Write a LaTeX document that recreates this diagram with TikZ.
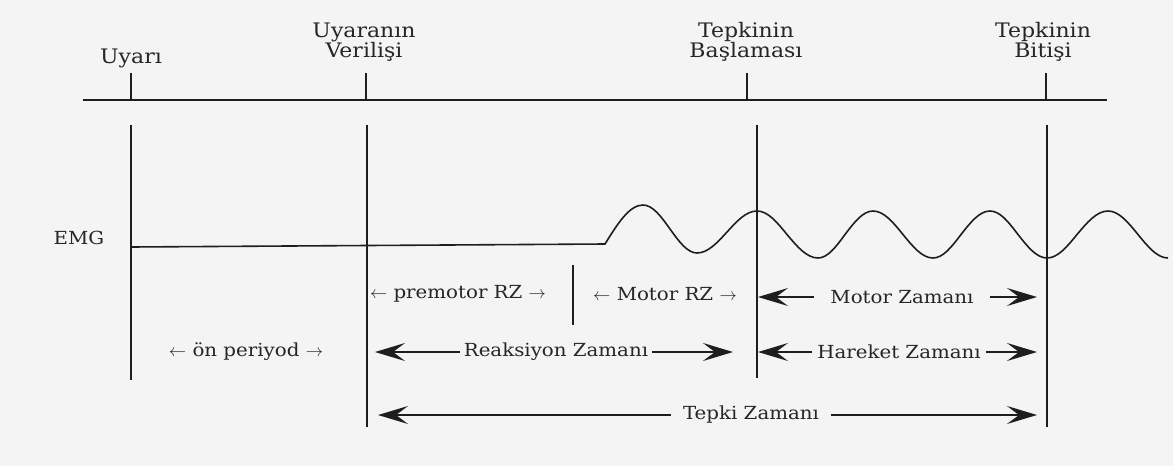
\documentclass[tikz,border=0pt]{standalone}
\usepackage{fontspec}
\setmainfont[FakeStretch=1.1]{DejaVu Serif}
\usetikzlibrary{arrows.meta}
\definecolor{bg}{RGB}{244,244,244}
\definecolor{ink}{RGB}{30,30,30}
\definecolor{txt}{RGB}{38,38,38}
\tikzset{
  lbl/.style={text=txt, font=\fontsize{18}{21}\selectfont, inner sep=0pt},
  toplbl/.style={text=txt, font=\fontsize{20}{20}\selectfont, inner sep=0pt, align=center},
  ln/.style={draw=ink, line width=1.6pt},
  dimarrow/.style={ln, -{Stealth[length=30pt,width=18pt,inset=12pt]}},
}
\begin{document}
\begin{tikzpicture}[x=1pt,y=-1pt]
\fill[bg] (0,0) rectangle (1173,466);
\useasboundingbox (0,0) rectangle (1173,466);
% top labels
\node[toplbl] (uyari) at (131,58) {Uyarı};
\node[toplbl] (veril) at (364,42) {Uyaranın\\Verilişi};
\node[toplbl] (basla) at (746,42) {Tepkinin\\Başlaması};
\node[toplbl] (bitis) at (1043,42) {Tepkinin\\Bitişi};
% top time axis
\coordinate (axL) at (83,100);
\coordinate (axR) at (1107,100);
\draw[ln] (axL) -- (axR);
\coordinate (t1) at (131,100); \coordinate (t1u) at (131,73);
\coordinate (t2) at (366,100); \coordinate (t2u) at (366,73);
\coordinate (t3) at (747,100); \coordinate (t3u) at (747,73);
\coordinate (t4) at (1046,100); \coordinate (t4u) at (1046,73);
\draw[ln] (t1) -- (t1u);
\draw[ln] (t2) -- (t2u);
\draw[ln] (t3) -- (t3u);
\draw[ln] (t4) -- (t4u);
% lower verticals
\coordinate (v1a) at (131,125); \coordinate (v1b) at (131,380);
\coordinate (v2a) at (367,125); \coordinate (v2b) at (367,427);
\coordinate (v3a) at (757,125); \coordinate (v3b) at (757,378);
\coordinate (v4a) at (1047,125); \coordinate (v4b) at (1047,427);
\coordinate (sepa) at (573,265); \coordinate (sepb) at (573,325);
\draw[ln] (v1a) -- (v1b);
\draw[ln] (v2a) -- (v2b);
\draw[ln] (v3a) -- (v3b);
\draw[ln] (v4a) -- (v4b);
\draw[ln] (sepa) -- (sepb);
% EMG
\node[lbl] (emg) at (79,238) {EMG};
\coordinate (e0) at (131,247);
\coordinate (e1) at (605,244);
\draw[ln] (e0) -- (e1)
  sin (643,205) cos (670,229) sin (697,253) cos (727,232)
  sin (757,211) cos (787,234.5) sin (818,258) cos (845,234.5)
  sin (873,211) cos (903,234.5) sin (933,258) cos (961,234.5)
  sin (990,211) cos (1018,234.5) sin (1047,258) cos (1077,234.5)
  sin (1108,211) cos (1138,234.5) sin (1168,258);
% row 1
\node[lbl] (premot) at (458,294) {$\leftarrow$ premotor RZ $\rightarrow$};
\node[lbl] (motrz) at (665,294) {$\leftarrow$ Motor RZ $\rightarrow$};
\node[lbl, inner xsep=16pt] (motz) at (902,297) {Motor Zamanı};
\coordinate (mzL) at (758,297); \coordinate (mzR) at (1037,297);
\draw[dimarrow] (motz.west) -- (mzL);
\draw[dimarrow] (motz.east) -- (mzR);
% row 2
\node[lbl] (onper) at (246,352) {$\leftarrow$ ön periyod $\rightarrow$};
\node[lbl, inner xsep=4pt] (reak) at (556,352) {Reaksiyon Zamanı};
\coordinate (rzL) at (375,352); \coordinate (rzR) at (733,352);
\draw[dimarrow] (reak.west) -- (rzL);
\draw[dimarrow] (reak.east) -- (rzR);
\node[lbl, inner xsep=5pt] (hare) at (899,352) {Hareket Zamanı};
\coordinate (hzL) at (758,352); \coordinate (hzR) at (1037,352);
\draw[dimarrow] (hare.west) -- (hzL);
\draw[dimarrow] (hare.east) -- (hzR);
% row 3
\node[lbl, inner xsep=12pt] (tepki) at (751,415) {Tepki Zamanı};
\coordinate (tzL) at (378,415); \coordinate (tzR) at (1037,415);
\draw[dimarrow] (tepki.west) -- (tzL);
\draw[dimarrow] (tepki.east) -- (tzR);
\end{tikzpicture}
\end{document}
